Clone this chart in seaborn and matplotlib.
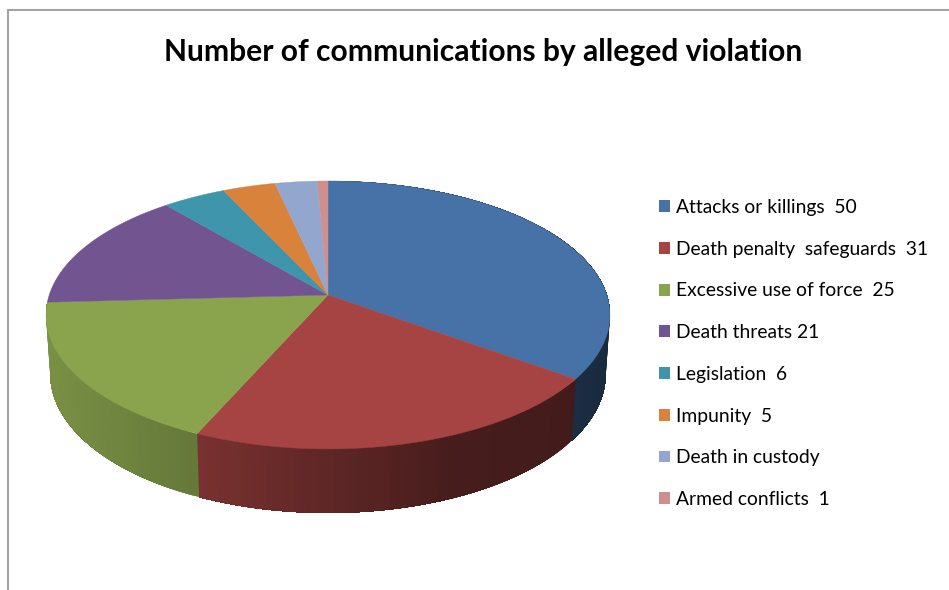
import numpy as np
import matplotlib
matplotlib.use("Agg")
import matplotlib.pyplot as plt
from matplotlib.patches import Patch
import seaborn as sns

# Communications per alleged violation
categories = ["Attacks or killings  50", "Death penalty  safeguards  31",
              "Excessive use of force  25", "Death threats 21", "Legislation  6",
              "Impunity  5", "Death in custody", "Armed conflicts  1"]
counts = [50, 31, 25, 21, 6, 5, 4, 1]
hex_colors = ["#4672A8", "#A54442", "#8AA44E", "#725590",
              "#3F95AC", "#D8823C", "#93A7CE", "#CE8F8E"]
title = "Number of communications by alleged violation"

# Disc geometry in pixels, with a perspective foreshortening term
CX, CY = 328.0, 295.0
RX, RY, PERSP = 278.8, 131.0, 0.149
DEPTH, DEPTH_FRONT, BASE_SCALE = 58.0, 6.0, 0.985
# Side-wall brightness varies with horizontal position
SHADE_X = [45, 200, 320, 450, 570, 610]
SHADE_F = [0.88, 0.73, 0.58, 0.43, 0.40, 0.37]

sns.set_theme(style="white")
palette = sns.color_palette(hex_colors)
plt.rcParams["font.family"] = ["Lato", "DejaVu Sans"]


def rim(theta):
    """Project clockwise-from-top angles on to the top rim of the disc."""
    u, v = np.sin(theta), np.cos(theta)
    w = 1 + PERSP * v
    return CX + RX * u / w, CY - RY * v / w


def base_rim(theta):
    """Lower edge of the side wall below the rim."""
    x, y = rim(theta)
    return CX + (x - CX) * BASE_SCALE, y + DEPTH - DEPTH_FRONT * np.cos(theta)


fig = plt.figure(figsize=(9.49, 5.90), dpi=100, facecolor="white")
left, top = 8.0, 10.0
ax = fig.add_axes([left / 949, 0, 1 - left / 949, 1 - top / 590])
ax.set_xlim(left, 949)
ax.set_ylim(590, top)
ax.set_xticks([])
ax.set_yticks([])
sns.despine(ax=ax, top=False, right=True, bottom=True)
for side in ("left", "top"):
    ax.spines[side].set_color("#A3A3A3")
    ax.spines[side].set_linewidth(1.5)

edges = np.cumsum([0] + counts) / sum(counts) * 2 * np.pi

# Side wall: each shaded strip runs on to the end of its slice, and the next
# strip paints over the overlap so that no seams show between them
for start, end, color in zip(edges[:-1], edges[1:], palette):
    if np.cos(end) > 0:
        continue
    steps = max(2, int((end - start) / np.radians(1.0)))
    angles = np.linspace(start, end, steps + 1)
    for i in range(steps):
        span = angles[i:]
        xt, yt = rim(span)
        xb, yb = base_rim(span[::-1])
        f = np.interp(rim(angles[i:i + 2])[0].mean(), SHADE_X, SHADE_F)
        shade = tuple(c * f for c in color)
        ax.fill(np.r_[xt, xb], np.r_[yt, yb], color=shade, lw=0, zorder=2)

# Top surface of the pie
for start, end, color in zip(edges[:-1], edges[1:], palette):
    angles = np.linspace(start, end, max(3, int((end - start) * 90)))
    xr, yr = rim(angles)
    ax.fill(np.r_[CX, xr], np.r_[CY, yr], color=color, lw=0.3, zorder=3)

ax.text(483.5, 52, title, ha="center", va="center", fontsize=21.6,
        fontweight="bold", color="black", zorder=5)

handles = [Patch(facecolor=c, edgecolor="none", label=n)
           for c, n in zip(palette, categories)]
ax.legend(handles=handles, loc="upper left", bbox_to_anchor=(659, 199),
          bbox_transform=ax.transData, frameon=False, fontsize=13.9,
          handlelength=0.57, handleheight=0.57, handletextpad=0.3,
          labelspacing=1.28, borderpad=0, borderaxespad=0, labelcolor="black")

fig.savefig("out.png", dpi=100, facecolor="white")
